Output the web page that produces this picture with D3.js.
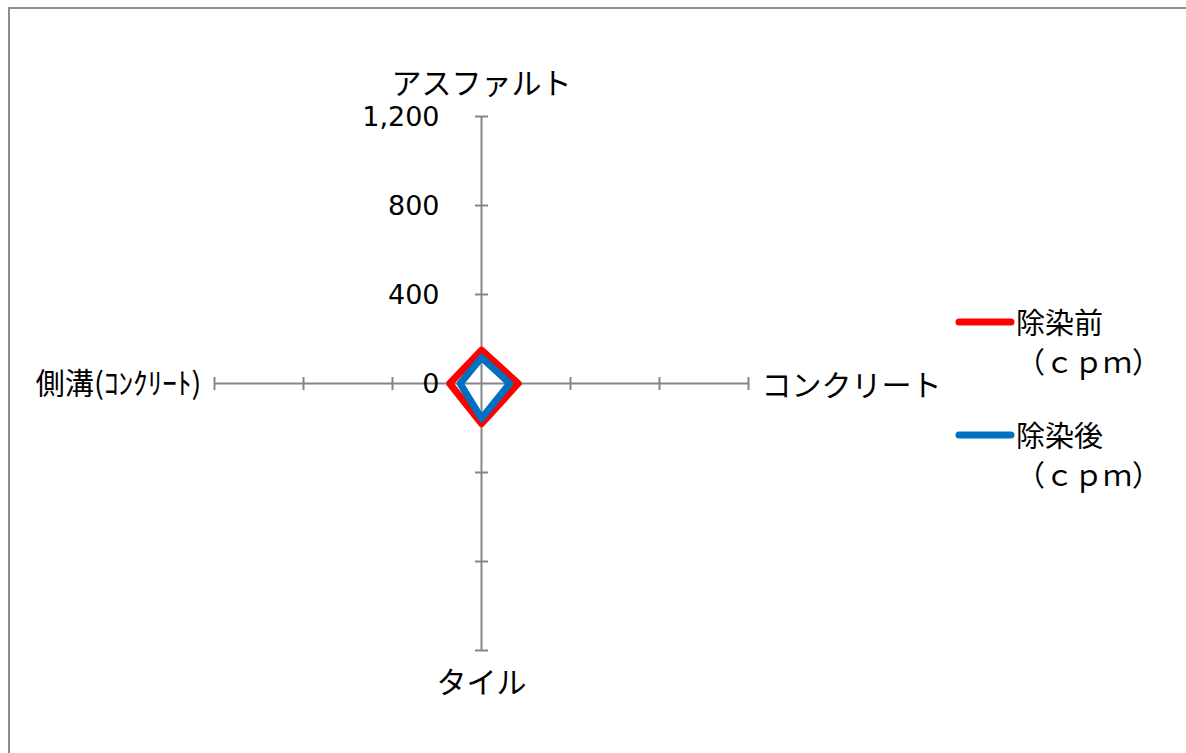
<!DOCTYPE html>
<html lang="ja">
<head>
<meta charset="UTF-8">
<title>Radar Chart</title>
<script src="https://d3js.org/d3.v7.min.js"></script>
<style>
    body { margin: 0; background: #fff; }
    text { font-family: "Noto Sans CJK JP", "Noto Sans", sans-serif; fill: #000; }
    text.tickLabel { font-family: "DejaVu Sans", sans-serif; }
    .axis line { stroke: #868686; stroke-width: 2px; }
    path.series { fill: none; stroke-width: 7px; stroke-linejoin: round; }
</style>
</head>
<body>
<svg width="1186" height="753"></svg>
<script>
    // categories in clockwise order starting at the top
    let categories = ["アスファルト", "コンクリート", "タイル", "側溝(ｺﾝｸﾘｰﾄ)"];
    let seriesNames = ["除染前", "除染後"];
    let before = [150, 165, 180, 143];
    let after = [117, 127, 157, 96];
    let tickValues = [0, 400, 800, 1200];
    let colors = ["#ff0000", "#0070c0"];

    let svg = d3.select("svg");
    let cx = 481.5, cy = 383.5, R = 267;

    // outer border
    svg.append("rect")
        .attr("x", 9).attr("y", 8)
        .attr("width", 1200).attr("height", 800)
        .attr("fill", "none").attr("stroke", "#8c8c8c").attr("stroke-width", 2);

    let rScale = d3.scaleLinear().domain([0, 1200]).range([0, R]);
    let angle = function (i) { return i * 2 * Math.PI / categories.length; };

    let g = svg.append("g").attr("transform", "translate(" + cx + "," + cy + ")");

    // axes with tick marks
    let axes = g.selectAll("g.axis").data(categories).join("g")
        .attr("class", "axis")
        .attr("transform", function (d, i) { return "rotate(" + (i * 90) + ")"; });
    axes.append("line")
        .attr("x1", 0).attr("y1", 0)
        .attr("x2", 0).attr("y2", -rScale(1200));
    axes.selectAll("line.tick").data(tickValues.slice(1)).join("line")
        .attr("class", "tick")
        .attr("x1", -6.5).attr("x2", 6.5)
        .attr("y1", function (d) { return -rScale(d); })
        .attr("y2", function (d) { return -rScale(d); });

    // value labels on the top axis
    g.selectAll("text.tickLabel").data(tickValues).join("text")
        .attr("class", "tickLabel")
        .attr("x", -42)
        .attr("y", function (d) { return -rScale(d); })
        .attr("dy", "0.36em")
        .attr("text-anchor", "end")
        .style("font-size", "27px")
        .text(function (d) { return d3.format(",")(d); });

    // category labels
    let labelPos = [
        {x: 0, y: -rScale(1200) - 33, anchor: "middle"},
        {x: rScale(1200) + 13, y: 2, anchor: "start"},
        {x: 0, y: rScale(1200) + 32, anchor: "middle"},
        {x: -rScale(1200) - 13, y: 0, anchor: "end"}
    ];
    g.selectAll("text.cat").data(categories).join("text")
        .attr("class", "cat")
        .attr("x", function (d, i) { return labelPos[i].x; })
        .attr("y", function (d, i) { return labelPos[i].y; })
        .attr("dy", "0.35em")
        .attr("text-anchor", function (d, i) { return labelPos[i].anchor; })
        .style("font-size", "30px")
        .each(function (d, i) {
            // the left label is a condensed, half-width one in the original
            if (i === 3) d3.select(this).attr("textLength", 166).attr("lengthAdjust", "spacingAndGlyphs");
        })
        .text(function (d) { return d; });

    // series polygons
    let radial = d3.lineRadial()
        .angle(function (d, i) { return angle(i); })
        .radius(function (d) { return rScale(d); })
        .curve(d3.curveLinearClosed);
    g.selectAll("path.series").data([before, after]).join("path")
        .attr("class", "series")
        .attr("stroke", function (d, i) { return colors[i]; })
        .attr("d", radial);

    // legend
    let legend = svg.append("g").attr("transform", "translate(959,322)");
    let items = legend.selectAll("g").data(seriesNames).join("g")
        .attr("transform", function (d, i) { return "translate(0," + (i * 113) + ")"; });
    items.append("line")
        .attr("x1", 0).attr("x2", 52).attr("y1", 0).attr("y2", 0)
        .attr("stroke", function (d, i) { return colors[i]; })
        .attr("stroke-width", 7).attr("stroke-linecap", "round");
    items.append("text")
        .attr("x", 57).attr("y", 2).attr("dy", "0.35em")
        .style("font-size", "29px")
        .text(function (d) { return d; });
    items.append("text")
        .attr("x", 57).attr("y", 41).attr("dy", "0.35em")
        .style("font-size", "29px")
        .text("（ｃｐｍ）");
</script>
</body>
</html>
